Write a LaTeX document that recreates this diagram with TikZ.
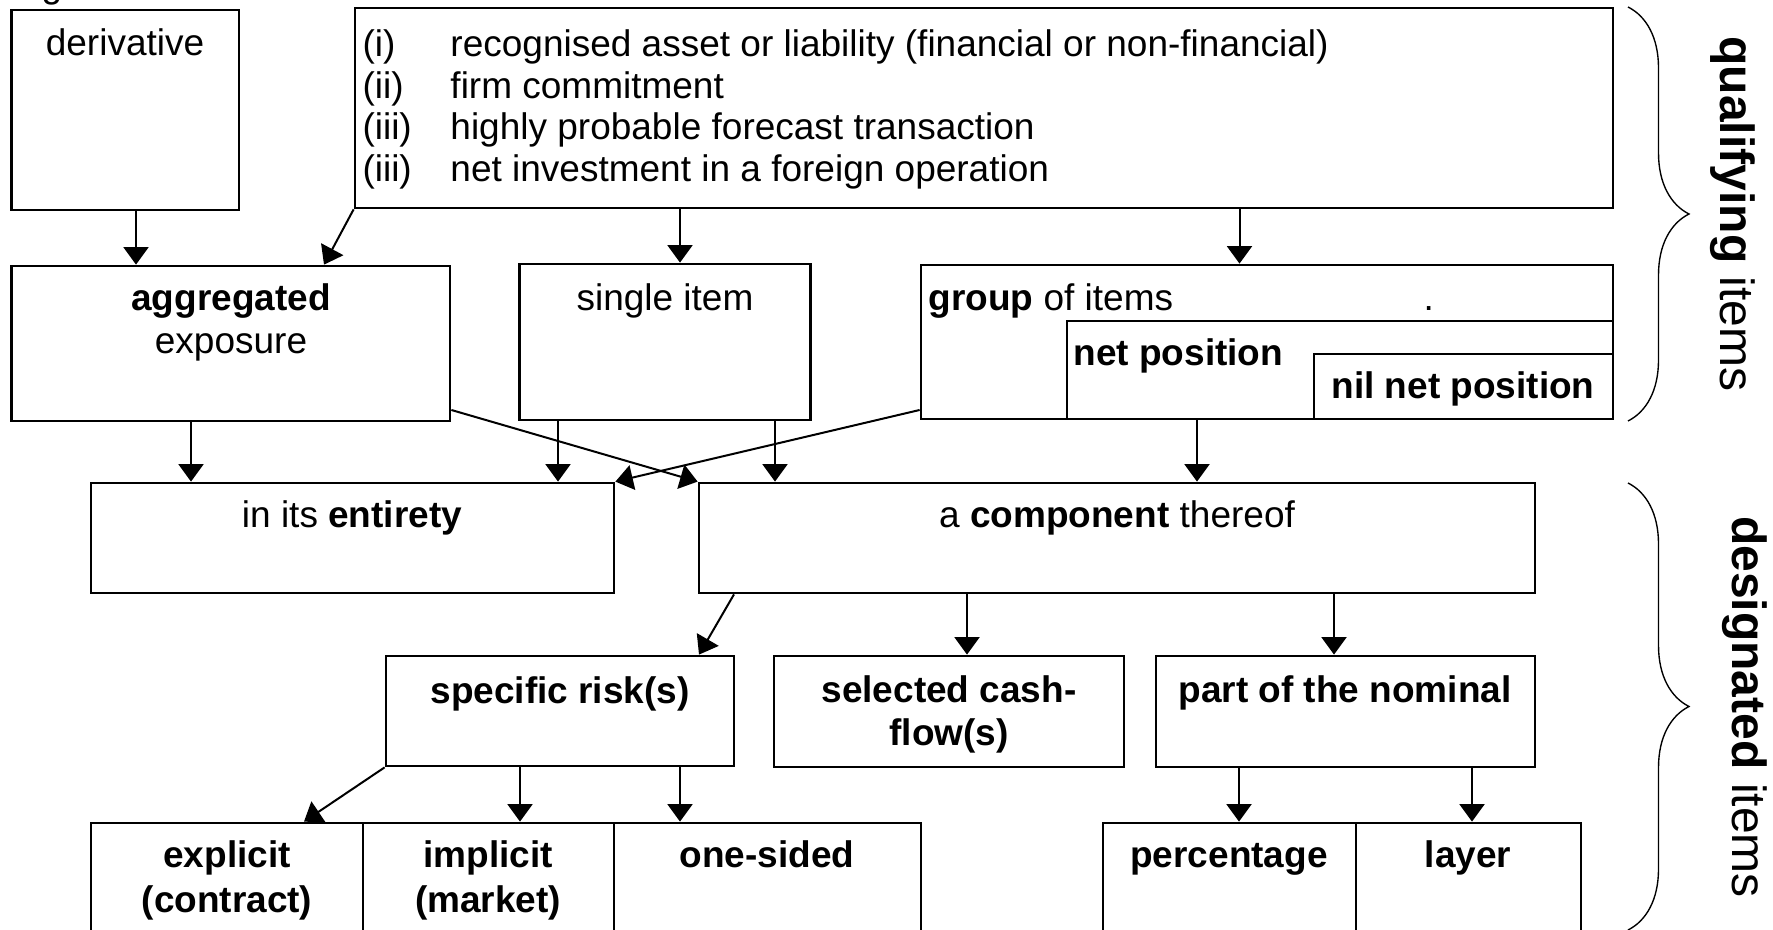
\documentclass[tikz,border=0pt]{standalone}
\usepackage{fontspec}
\setmainfont{Liberation Sans}
\usetikzlibrary{arrows.meta,fit,decorations.pathreplacing}
\begin{document}
\begin{tikzpicture}[x=0.4pt,y=-0.4pt,
  box/.style={draw, line width=1.1pt, inner sep=0pt, fit={#1}},
  txt/.style={inner sep=0pt, anchor=base, font=\fontsize{14.8}{16.6}\selectfont},
  txtl/.style={txt, anchor=base west},
  side/.style={inner sep=0pt, rotate=-90, font=\fontsize{19.2}{22}\selectfont},
  arr/.style={line width=0.8pt, -{Triangle[width=10pt,length=7pt]}},
  brc/.style={line width=0.55pt, decorate, decoration={brace, amplitude=24.4pt, aspect=0.5}}
]
% page
\fill[white] (0,0) rectangle (1773,930);
\useasboundingbox (0,0) rectangle (1773,930);

% ---- qualifying items ----
\node[txt] (gfrag) at (52,-2) {g};
\node[box={(11.5,10) (239,210)}] (deriv) {};
\node[txt] (tder) at (125,56) {derivative};

\node[box={(355,8) (1613,208)}] (list) {};
\node[txtl] (l1) at (362,57)    {\makebox[35.2pt][l]{(i)}recognised asset or liability (financial or non-financial)};
\node[txtl] (l2) at (362,98.5)  {\makebox[35.2pt][l]{(ii)}firm commitment};
\node[txtl] (l3) at (362,140)   {\makebox[35.2pt][l]{(iii)}highly probable forecast transaction};
\node[txtl] (l4) at (362,181.5) {\makebox[35.2pt][l]{(iii)}net investment in a foreign operation};

\node[box={(11.5,266) (450,421)}] (agg) {};
\node[txt] (tagg1) at (231,311) {\textbf{aggregated}};
\node[txt] (tagg2) at (231,354) {exposure};

\node[box={(519.5,264) (810.6,420)}] (single) {};
\node[txt] (tsingle) at (665,311) {single item};

\node[box={(921,265) (1613,419)}] (group) {};
\node[box={(1067,321) (1613,419)}] (netpos) {};
\node[box={(1314,354) (1613,419)}] (nilnet) {};
\node[txtl] (tgroup) at (928,311) {\textbf{group} of items};
\node[txtl] (tdot) at (1423,311) {.};
\node[txtl] (tnet) at (1073,366) {\textbf{net position}};
\node[txt] (tnil) at (1463,399) {\textbf{nil net position}};

% ---- designated items ----
\node[box={(91,483) (614,593)}] (entire) {};
\node[txt] (tent) at (352,528) {in its \textbf{entirety}};
\node[box={(699,483) (1535,593)}] (comp) {};
\node[txt] (tcomp) at (1117,528) {a \textbf{component} thereof};

\node[box={(386,656) (734,766)}] (spec) {};
\node[txt] (tspec) at (560,704) {\textbf{specific risk(s)}};
\node[box={(774,656) (1124,767)}] (sel) {};
\node[txt] (tsel1) at (949,703) {\textbf{selected cash-}};
\node[txt] (tsel2) at (949,746) {\textbf{flow(s)}};
\node[box={(1156,656) (1535,767)}] (nom) {};
\node[txt] (tnom) at (1345,703) {\textbf{part of the nominal}};

\node[box={(91,823) (363,1000)}] (expl) {};
\node[txt] (texp1) at (227,868) {\textbf{explicit}};
\node[txt] (texp2) at (227,913) {\textbf{(contract)}};
\node[box={(363,823) (614,1000)}] (impl) {};
\node[txt] (timp1) at (488,868) {\textbf{implicit}};
\node[txt] (timp2) at (488,913) {\textbf{(market)}};
\node[box={(614,823) (921,1000)}] (one) {};
\node[txt] (tone) at (767,868) {\textbf{one-sided}};
\node[box={(1103,823) (1356,1000)}] (pct) {};
\node[txt] (tpct) at (1229,868) {\textbf{percentage}};
\node[box={(1356,823) (1581,1000)}] (lay) {};
\node[txt] (tlay) at (1468,868) {\textbf{layer}};

% ---- connectors ----
\draw[arr] (136,0 |- deriv.south) -- (136,0 |- agg.north);
\draw[arr] (list.south west) -- (324,0 |- agg.north);
\draw[arr] (680,0 |- list.south) -- (680,0 |- single.north);
\draw[arr] (1239.5,0 |- list.south) -- (1239.5,0 |- group.north);

\draw[arr] (191,0 |- agg.south) -- (191,0 |- entire.north);
\draw[arr] (558,0 |- single.south) -- (558,0 |- entire.north);
\draw[arr] (775,0 |- single.south) -- (775,0 |- comp.north);
\draw[arr] (group.west |- 0,410) -- (entire.north east);
\draw[arr] (agg.east |- 0,410) -- (comp.north west);
\draw[arr] (1197,0 |- group.south) -- (1197,0 |- comp.north);

\draw[arr] (734,0 |- comp.south) -- (699,0 |- spec.north);
\draw[arr] (967,0 |- comp.south) -- (967,0 |- sel.north);
\draw[arr] (1334,0 |- comp.south) -- (1334,0 |- nom.north);

\draw[arr] (spec.south west) -- (304,0 |- expl.north);
\draw[arr] (520,0 |- spec.south) -- (520,0 |- impl.north);
\draw[arr] (680,0 |- spec.south) -- (680,0 |- one.north);
\draw[arr] (1239,0 |- nom.south) -- (1239,0 |- pct.north);
\draw[arr] (1472,0 |- nom.south) -- (1472,0 |- lay.north);

% ---- side braces and labels ----
\coordinate (qtop) at (1628,7);
\coordinate (qbot) at (1628,421);
\coordinate (dtop) at (1628,483);
\coordinate (dbot) at (1628,930);
\draw[brc] (qtop) -- (qbot);
\draw[brc] (dtop) -- (dbot);
\node[side] (qual) at (1733,214) {\textbf{qualifying} items};
\node[side] (desig) at (1745,707) {\textbf{designated} items};
\end{tikzpicture}
\end{document}
